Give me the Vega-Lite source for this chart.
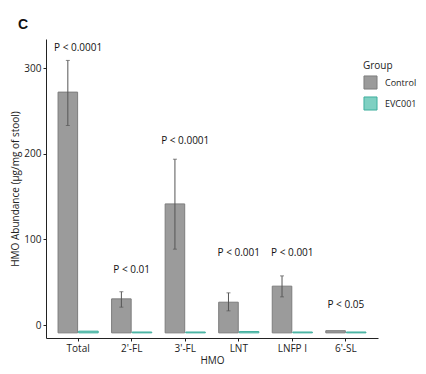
{
  "$schema": "https://vega.github.io/schema/vega-lite/v6.json",
  "width": 332,
  "height": 299,
  "autosize": {"type": "none"},
  "padding": {"left": 46, "top": 39, "right": 48, "bottom": 36},
  "background": "white",
  "title": {"text": "C", "anchor": "start", "frame": "group", "fontSize": 14, "fontWeight": "bold", "font": "Liberation Sans", "color": "#111", "dx": -28, "dy": -7, "offset": 0},
  "config": {
    "view": {"stroke": null},
    "font": "Open Sans",
    "axis": {"labelFont": "Open Sans", "titleFont": "Open Sans", "labelColor": "#222", "titleColor": "#222", "domainColor": "#222", "tickColor": "#222", "grid": false}
  },
  "datasets": {
    "bars": [
      {"hmo": "Total", "group": "Control", "mean": 272, "lo": 233, "hi": 309},
      {"hmo": "Total", "group": "EVC001", "mean": -7, "lo": null, "hi": null},
      {"hmo": "2'-FL", "group": "Control", "mean": 30.7, "lo": 21, "hi": 39},
      {"hmo": "2'-FL", "group": "EVC001", "mean": -8, "lo": null, "hi": null},
      {"hmo": "3'-FL", "group": "Control", "mean": 141.5, "lo": 88.7, "hi": 193.7},
      {"hmo": "3'-FL", "group": "EVC001", "mean": -8, "lo": null, "hi": null},
      {"hmo": "LNT", "group": "Control", "mean": 26.8, "lo": 16.7, "hi": 37.7},
      {"hmo": "LNT", "group": "EVC001", "mean": -7.5, "lo": null, "hi": null},
      {"hmo": "LNFP I", "group": "Control", "mean": 45.5, "lo": 33, "hi": 57.5},
      {"hmo": "LNFP I", "group": "EVC001", "mean": -8, "lo": null, "hi": null},
      {"hmo": "6'-SL", "group": "Control", "mean": -6.5, "lo": null, "hi": null},
      {"hmo": "6'-SL", "group": "EVC001", "mean": -8, "lo": null, "hi": null}
    ],
    "labels": [
      {"hmo": "Total", "label": "P < 0.0001", "y": 323},
      {"hmo": "2'-FL", "label": "P < 0.01", "y": 64.5},
      {"hmo": "3'-FL", "label": "P < 0.0001", "y": 214.7},
      {"hmo": "LNT", "label": "P < 0.001", "y": 84.4},
      {"hmo": "LNFP I", "label": "P < 0.001", "y": 84.4},
      {"hmo": "6'-SL", "label": "P < 0.05", "y": 23.7}
    ]
  },
  "encoding": {
    "x": {
      "field": "hmo", "type": "nominal",
      "sort": ["Total", "2'-FL", "3'-FL", "LNT", "LNFP I", "6'-SL"],
      "scale": {"paddingInner": 0.25, "paddingOuter": 0.225},
      "axis": {"title": "HMO", "labelAngle": 0, "labelFontSize": 10, "titleFontSize": 10, "titleFontWeight": "normal", "tickSize": 3, "labelPadding": 2, "titlePadding": 2, "domainWidth": 1}
    }
  },
  "layer": [
    {
      "data": {"name": "bars"},
      "mark": {"type": "bar", "strokeWidth": 1},
      "encoding": {
        "xOffset": {"field": "group", "type": "nominal", "scale": {"paddingInner": 0.05}},
        "y": {
          "field": "mean", "type": "quantitative",
          "scale": {"domain": [-15, 334], "nice": false, "zero": false},
          "axis": {"title": "HMO Abundance (μg/mg of stool)", "values": [0, 100, 200, 300], "labelFontSize": 10, "titleFontSize": 10, "titleFontWeight": "normal", "tickSize": 3, "labelPadding": 2, "titlePadding": 3, "domainWidth": 1}
        },
        "y2": {"datum": -9},
        "fill": {
          "field": "group", "type": "nominal",
          "scale": {"domain": ["Control", "EVC001"], "range": ["#9b9b9b", "#7fd0c2"]},
          "legend": {"title": "Group", "orient": "none", "legendX": 317, "legendY": 22, "titleFontSize": 10, "titleFontWeight": "normal", "titleColor": "#222", "labelFontSize": 9, "labelColor": "#222", "symbolType": "square", "symbolSize": 170, "symbolStrokeWidth": 1, "rowPadding": 2, "labelOffset": 7, "titlePadding": 4}
        },
        "stroke": {
          "field": "group", "type": "nominal",
          "scale": {"domain": ["Control", "EVC001"], "range": ["#7d7d7d", "#3fae9d"]},
          "legend": null
        }
      }
    },
    {
      "data": {"name": "bars"},
      "transform": [{"filter": "datum.lo != null"}],
      "mark": {"type": "rule", "color": "#555", "strokeWidth": 1},
      "encoding": {
        "xOffset": {"field": "group", "type": "nominal", "scale": {"domain": ["Control", "EVC001"], "paddingInner": 0.05}},
        "y": {"field": "lo", "type": "quantitative"},
        "y2": {"field": "hi"}
      }
    },
    {
      "data": {"name": "bars"},
      "transform": [{"filter": "datum.lo != null"}, {"fold": ["lo", "hi"], "as": ["end", "val"]}],
      "mark": {"type": "tick", "color": "#555", "size": 4, "thickness": 1, "orient": "horizontal"},
      "encoding": {
        "xOffset": {"field": "group", "type": "nominal", "scale": {"domain": ["Control", "EVC001"], "paddingInner": 0.05}},
        "y": {"field": "val", "type": "quantitative"}
      }
    },
    {
      "data": {"name": "labels"},
      "mark": {"type": "text", "fontSize": 10, "color": "#111", "font": "Open Sans"},
      "encoding": {
        "y": {"field": "y", "type": "quantitative"},
        "text": {"field": "label"}
      }
    }
  ]
}
